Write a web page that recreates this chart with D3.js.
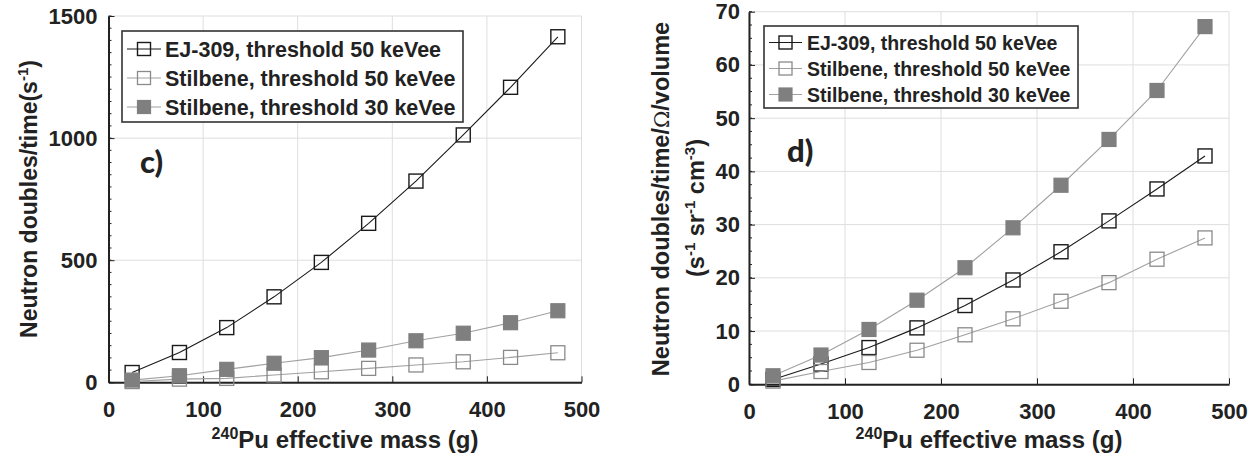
<!DOCTYPE html>
<html>
<head>
<meta charset="utf-8">
<script src="https://cdn.jsdelivr.net/npm/d3@7"></script>
<style>
  html, body { margin: 0; padding: 0; background: #fff; }
  svg { display: block; }
  text { font-family: "Liberation Sans", Arial, Helvetica, sans-serif; font-weight: bold; fill: #222; }
</style>
</head>
<body>
<svg id="chart" width="1251" height="461"></svg>
<script>
// 240Pu effective mass (g) for each simulated source
const massG = [25, 75, 125, 175, 225, 275, 325, 375, 425, 475];

// Panel c: neutron doubles per second
const ej309Rate  = [40, 122, 224, 350, 491, 651, 824, 1013, 1208, 1415];
const stil50Rate = [3, 13, 16, 30, 43, 57, 71, 84, 102, 121];
const stil30Rate = [9, 27, 53, 78, 101, 132, 170, 201, 244, 293];

// Panel d: doubles per second per steradian per cm^3
const ej309Norm  = [0.9, 3.8, 6.9, 10.6, 14.8, 19.6, 24.9, 30.7, 36.7, 42.9];
const stil50Norm = [0.6, 2.4, 4.1, 6.4, 9.3, 12.3, 15.6, 19.1, 23.5, 27.5];
const stil30Norm = [1.6, 5.5, 10.3, 15.8, 21.9, 29.4, 37.4, 46.0, 55.2, 67.2];

// Axis ticks
const xTicks = [0, 100, 200, 300, 400, 500];
const rateTicks = [0, 500, 1000, 1500];
const normTicks = [0, 10, 20, 30, 40, 50, 60, 70];

// Legend entries
const seriesNames = ["EJ-309, threshold 50 keVee", "Stilbene, threshold 50 keVee", "Stilbene, threshold 30 keVee"];

const styles = [
  { line: "#1a1a1a", stroke: "#1a1a1a", fill: "none", lw: 1.1, mw: 1.4 },
  { line: "#a0a0a0", stroke: "#8a8a8a", fill: "none", lw: 1.1, mw: 1.3 },
  { line: "#a0a0a0", stroke: "#7f7f7f", fill: "#7f7f7f", lw: 1.1, mw: 1.2 }
];

const svg = d3.select("#chart");

function panel(opts) {
  const x = d3.scaleLinear().domain([0, 500]).range([opts.left, opts.right]);
  const y = d3.scaleLinear().domain([0, opts.yMax]).range([opts.bottom, opts.top]);
  const g = svg.append("g");

  // grid
  g.append("g").selectAll("line").data(xTicks).join("line")
    .attr("x1", d => x(d)).attr("x2", d => x(d))
    .attr("y1", opts.top).attr("y2", opts.bottom)
    .attr("stroke", "#dedede").attr("stroke-width", 1);
  g.append("g").selectAll("line").data(opts.yTicks).join("line")
    .attr("x1", opts.left).attr("x2", opts.right)
    .attr("y1", d => y(d)).attr("y2", d => y(d))
    .attr("stroke", "#dedede").attr("stroke-width", 1);

  // minor ticks on y axis
  const minor = d3.range(0, opts.yMax + 1e-9, opts.minorStep);
  g.append("g").selectAll("line").data(minor).join("line")
    .attr("x1", opts.left).attr("x2", opts.left + 3)
    .attr("y1", d => y(d)).attr("y2", d => y(d))
    .attr("stroke", "#222").attr("stroke-width", 1);

  // axes
  const xAxis = d3.axisBottom(x).tickValues(xTicks).tickSizeInner(-6).tickSizeOuter(0).tickPadding(19).tickFormat(d3.format("d"));
  const gx = g.append("g").attr("transform", `translate(0,${opts.bottom})`).call(xAxis);
  gx.select(".domain").attr("stroke", "#222").attr("stroke-width", 2);
  gx.selectAll(".tick line").attr("stroke", "#222").attr("stroke-width", 1);
  gx.selectAll(".tick text").attr("font-size", 22).attr("fill", "#222");

  const yAxis = d3.axisLeft(y).tickValues(opts.yTicks).tickSizeInner(-6).tickSizeOuter(0).tickPadding(opts.tickPad).tickFormat(d3.format("d"));
  const gy = g.append("g").attr("transform", `translate(${opts.left},0)`).call(yAxis);
  gy.select(".domain").attr("stroke", "#222").attr("stroke-width", 2);
  gy.selectAll(".tick line").attr("stroke", "#222").attr("stroke-width", 1);
  gy.selectAll(".tick text").attr("font-size", 22).attr("fill", "#222");

  // series
  const line = d3.line().x((d, i) => x(massG[i])).y(d => y(d));
  const ms = 14;
  opts.series.forEach((vals, k) => {
    const st = styles[k];
    g.append("path").attr("d", line(vals)).attr("fill", "none")
      .attr("stroke", st.line).attr("stroke-width", st.lw);
    g.append("g").selectAll("rect").data(vals).join("rect")
      .attr("x", (d, i) => x(massG[i]) - ms / 2).attr("y", d => y(d) - ms / 2)
      .attr("width", ms).attr("height", ms)
      .attr("fill", st.fill).attr("stroke", st.stroke).attr("stroke-width", st.mw);
  });

  // legend
  const L = opts.legend;
  g.append("rect").attr("x", L.x).attr("y", L.y).attr("width", L.w).attr("height", L.h)
    .attr("fill", "#fff").attr("stroke", "#333").attr("stroke-width", 1.6);
  seriesNames.forEach((name, k) => {
    const st = styles[k];
    const cy = L.y + L.row0 + k * L.rowGap;
    g.append("line").attr("x1", L.x + 5).attr("x2", L.x + L.lineLen)
      .attr("y1", cy).attr("y2", cy).attr("stroke", st.line).attr("stroke-width", st.lw);
    const mx = L.x + 5 + (L.lineLen - 5) / 2;
    g.append("rect").attr("x", mx - 6.5).attr("y", cy - 6.5).attr("width", 13).attr("height", 13)
      .attr("fill", st.fill).attr("stroke", st.stroke).attr("stroke-width", st.mw);
    g.append("text").attr("x", L.x + L.textX).attr("y", cy).attr("dy", "0.36em")
      .attr("font-size", L.font).attr("fill", "#111").text(name);
  });

  // panel tag
  g.append("text").attr("x", opts.tag.x).attr("y", opts.tag.y)
    .attr("font-size", 31).attr("fill", "#000")
    .style("font-family", "Lato, 'Open Sans', sans-serif").style("font-weight", "900")
    .text(opts.tag.text);

  // x title
  const xt = g.append("text").attr("x", (opts.left + opts.right) / 2).attr("y", 448)
    .attr("text-anchor", "middle").attr("font-size", 24);
  xt.append("tspan").attr("font-size", 16).attr("dy", -9).text("240");
  xt.append("tspan").attr("dy", 9).text("Pu effective mass (g)");

  return { x, y, g };
}

// Panel c
const pc = panel({
  left: 108.5, right: 581.5, top: 16, bottom: 382.3, yMax: 1500,
  yTicks: rateTicks, minorStep: 50, tickPad: 11,
  series: [ej309Rate, stil50Rate, stil30Rate],
  legend: { x: 122, y: 31, w: 341, h: 91, row0: 18, rowGap: 29, lineLen: 39, textX: 43, font: 21.5 },
  tag: { x: 140, y: 173, text: "c)" }
});
{
  const t = pc.g.append("text").attr("transform", "translate(37,199) rotate(-90)")
    .attr("text-anchor", "middle").attr("font-size", 23);
  t.append("tspan").text("Neutron doubles/time(s");
  t.append("tspan").attr("font-size", 15).attr("dy", -9).text("-1");
  t.append("tspan").attr("dy", 9).text(")");
}

// Panel d
const pd = panel({
  left: 749, right: 1229, top: 11.7, bottom: 384.3, yMax: 70,
  yTicks: normTicks, minorStep: 2.5, tickPad: 9,
  series: [ej309Norm, stil50Norm, stil30Norm],
  legend: { x: 764, y: 26, w: 314, h: 82, row0: 16.5, rowGap: 26, lineLen: 38, textX: 43, font: 19.5 },
  tag: { x: 787, y: 162, text: "d)" }
});
{
  const t1 = pd.g.append("text").attr("transform", "translate(669,199) rotate(-90)")
    .attr("text-anchor", "middle").attr("font-size", 23.5);
  t1.append("tspan").text("Neutron doubles/time/");
  t1.append("tspan").style("font-weight", "normal").style("font-family", "DejaVu Serif, serif").attr("font-size", 21).text("Ω");
  t1.append("tspan").text("/volume");
  const t2 = pd.g.append("text").attr("transform", "translate(704,208) rotate(-90)")
    .attr("text-anchor", "middle").attr("font-size", 23.5);
  t2.append("tspan").text("(s");
  t2.append("tspan").attr("font-size", 15).attr("dy", -9).text("-1");
  t2.append("tspan").attr("dy", 9).text(" sr");
  t2.append("tspan").attr("font-size", 15).attr("dy", -9).text("-1");
  t2.append("tspan").attr("dy", 9).text(" cm");
  t2.append("tspan").attr("font-size", 15).attr("dy", -9).text("-3");
  t2.append("tspan").attr("dy", 9).text(")");
}
</script>
</body>
</html>
